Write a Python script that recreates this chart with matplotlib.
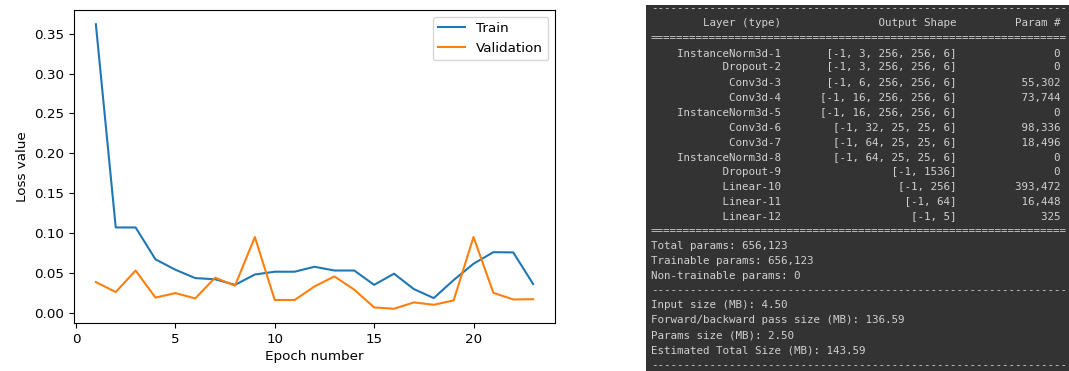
import numpy as np
import matplotlib
matplotlib.use("Agg")
import matplotlib.pyplot as plt
from matplotlib.patches import Rectangle

# loss history per epoch
epochs = list(range(1, 24))
train_loss = [0.362, 0.107, 0.107, 0.067, 0.054, 0.0435, 0.042, 0.035, 0.048, 0.0515,
              0.0515, 0.0577, 0.053, 0.053, 0.035, 0.049, 0.0297, 0.0184, 0.041, 0.0615,
              0.076, 0.0757, 0.036]
val_loss = [0.0385, 0.026, 0.053, 0.019, 0.0247, 0.018, 0.044, 0.034, 0.095, 0.016,
            0.016, 0.033, 0.0456, 0.029, 0.0067, 0.005, 0.013, 0.010, 0.0155, 0.095,
            0.025, 0.0167, 0.017]

# model summary
layer_names = ["InstanceNorm3d-1", "Dropout-2", "Conv3d-3", "Conv3d-4", "InstanceNorm3d-5",
               "Conv3d-6", "Conv3d-7", "InstanceNorm3d-8", "Dropout-9", "Linear-10",
               "Linear-11", "Linear-12"]
output_shapes = ["[-1, 3, 256, 256, 6]", "[-1, 3, 256, 256, 6]", "[-1, 6, 256, 256, 6]",
                 "[-1, 16, 256, 256, 6]", "[-1, 16, 256, 256, 6]", "[-1, 32, 25, 25, 6]",
                 "[-1, 64, 25, 25, 6]", "[-1, 64, 25, 25, 6]", "[-1, 1536]", "[-1, 256]",
                 "[-1, 64]", "[-1, 5]"]
param_counts = [0, 0, 55302, 73744, 0, 98336, 18496, 0, 0, 393472, 16448, 325]
total_params = 656123
trainable_params = 656123
input_mb = 4.50
pass_mb = 136.59
params_mb = 2.50
total_mb = 143.59

W, H = 1069, 371
fig = plt.figure(figsize=(W / 100, H / 100), dpi=100)

ax = fig.add_axes([74 / W, 1 - 323 / H, 481 / W, 313 / H])
ax.plot(epochs, train_loss, color="#1f77b4", lw=1.5, label="Train")
ax.plot(epochs, val_loss, color="#ff7f0e", lw=1.5, label="Validation")
ax.set_xlabel("Epoch number", fontsize=9.7, labelpad=3)
ax.set_ylabel("Loss value", fontsize=9.7)
ax.tick_params(labelsize=9.7)
ax.legend(loc="upper right", fontsize=9.7)

# dark console panel
fig.patches.append(Rectangle((646 / W, 0), 1 - 646 / W, 1 - 5 / H,
                             transform=fig.transFigure, facecolor="#333333",
                             edgecolor="none", zorder=0))

lines = ["-" * 64,
         "{:>20}  {:>25} {:>15}".format("Layer (type)", "Output Shape", "Param #"),
         "=" * 64]
for name, shape, n in zip(layer_names, output_shapes, param_counts):
    lines.append("{:>20}  {:>25} {:>15}".format(name, shape, "{:,}".format(n)))
lines += ["=" * 64,
          "Total params: {:,}".format(total_params),
          "Trainable params: {:,}".format(trainable_params),
          "Non-trainable params: {:,}".format(total_params - trainable_params),
          "-" * 64,
          "Input size (MB): %0.2f" % input_mb,
          "Forward/backward pass size (MB): %0.2f" % pass_mb,
          "Params size (MB): %0.2f" % params_mb,
          "Estimated Total Size (MB): %0.2f" % total_mb,
          "-" * 64]

for i, s in enumerate(lines):
    fig.text(651 / W, 1 - (8 + 14.87 * i) / H, s, family="DejaVu Sans Mono",
             fontsize=7.82, color="#d0d0d0", va="center", ha="left")

fig.savefig("out.png", dpi=100)
